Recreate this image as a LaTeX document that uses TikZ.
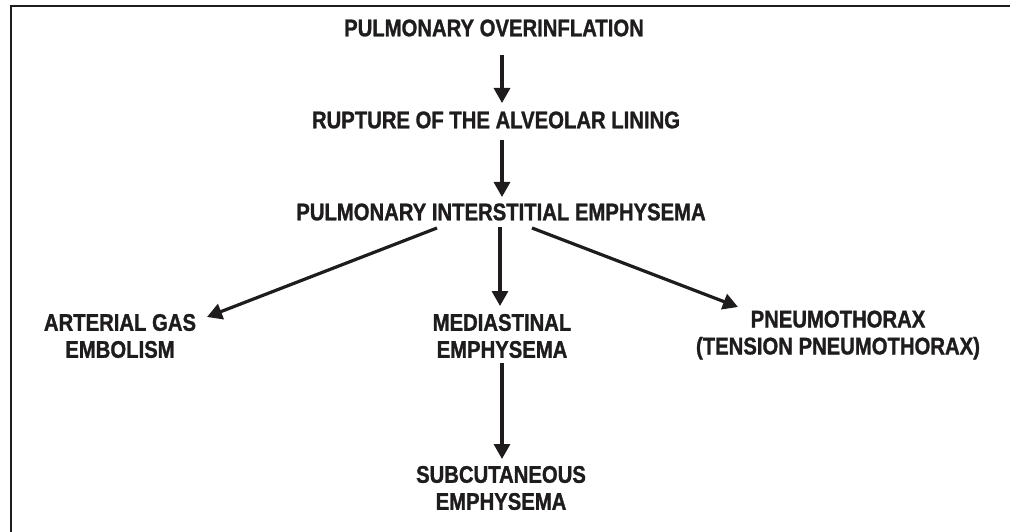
\documentclass[tikz,border=0pt]{standalone}
\usepackage{fontspec}
\setmainfont{Liberation Sans}[FakeStretch=0.845,BoldFeatures={FakeBold=1.2}]
\usetikzlibrary{arrows.meta}
\definecolor{ink}{HTML}{1E1C1D}
\begin{document}
\begin{tikzpicture}[x=1pt,y=-1pt,
  lbl/.style={inner sep=0pt,align=center,text=ink,font=\fontsize{24}{27}\selectfont\bfseries},
  arr/.style={draw=ink,line width=3.2pt,-{Triangle[length=15pt,width=16pt]}},
  frame/.style={draw=ink,line width=2.6pt}]
\useasboundingbox (0,0) rectangle (1010,532);
\draw[frame] (11,532) -- (11,6) -- (1010,6);
\node[lbl] (po)  at (494,28)  {PULMONARY OVERINFLATION};
\node[lbl] (rup) at (496,120) {RUPTURE OF THE ALVEOLAR LINING};
\node[lbl] (pie) at (501,212) {PULMONARY INTERSTITIAL EMPHYSEMA};
\node[lbl] (age) at (120,336) {ARTERIAL GAS\\EMBOLISM};
\node[lbl] (med) at (502,336) {MEDIASTINAL\\EMPHYSEMA};
\node[lbl] (pnx) at (838,335) {PNEUMOTHORAX\\(TENSION PNEUMOTHORAX)};
\node[lbl] (sub) at (501,488) {SUBCUTANEOUS\\EMPHYSEMA};
\draw[arr] ([shift={(8,27)}]po.center) -- ([shift={(6,-17)}]rup.center);
\draw[arr] ([shift={(6,20)}]rup.center) -- ([shift={(1,-15)}]pie.center);
\draw[arr] ([shift={(-64,16)}]pie.center) -- ([shift={(87,-19)}]age.center);
\draw[arr] ([shift={(-1,15)}]pie.center) -- ([shift={(-2,-30)}]med.center);
\draw[arr] ([shift={(31,16)}]pie.center) -- ([shift={(-100,-28)}]pnx.center);
\draw[arr] ([shift={(0,27)}]med.center) -- ([shift={(1,-29)}]sub.center);
\end{tikzpicture}
\end{document}
